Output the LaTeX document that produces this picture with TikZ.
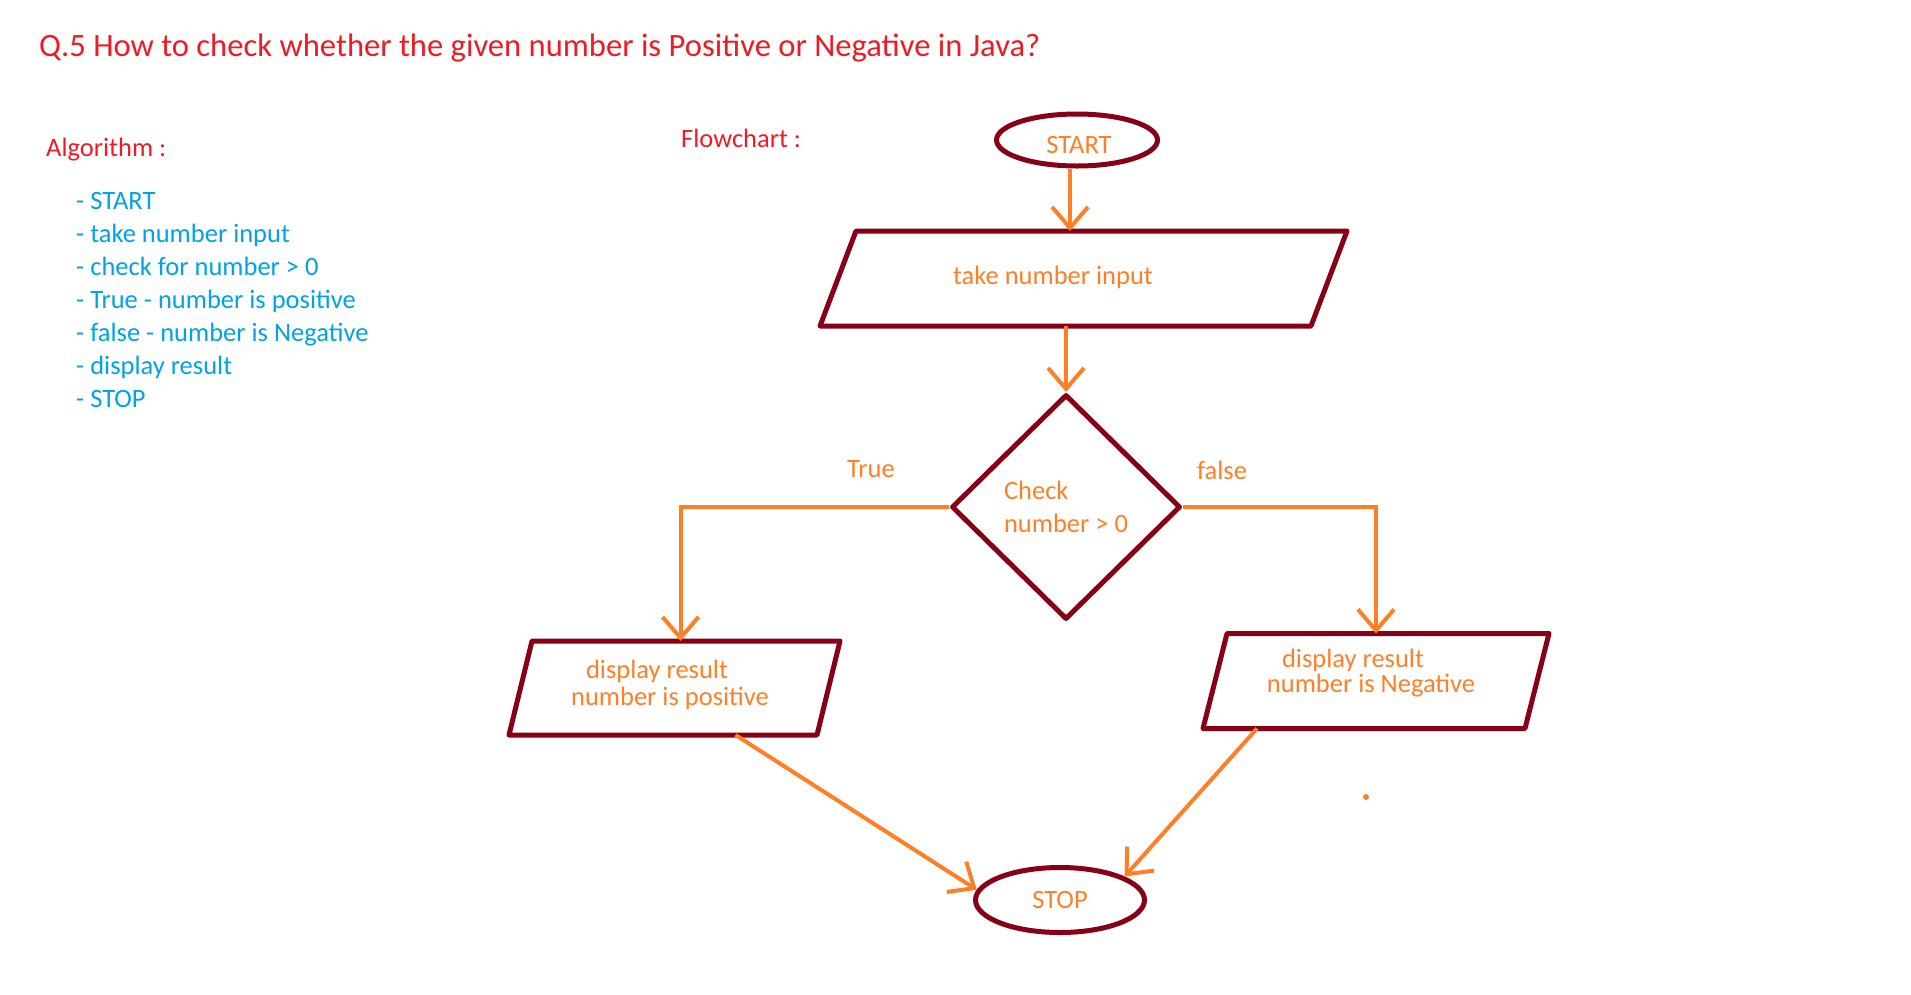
\documentclass[tikz,border=0pt]{standalone}
\usepackage{fontspec}
\setmainfont{Carlito}
\usetikzlibrary{shapes.geometric,arrows.meta}
\definecolor{dred}{RGB}{136,0,21}
\definecolor{porange}{RGB}{255,127,39}
\definecolor{pred}{RGB}{237,28,36}
\definecolor{pblue}{RGB}{0,162,232}
\newcommand{\skewbox}[2]{% node name, horizontal offset
  \draw[outl] ([xshift=#2]#1.north west) -- (#1.north east)
    -- ([xshift=-#2]#1.south east) -- (#1.south west) -- cycle;}
\begin{document}
\begin{tikzpicture}[x=1pt,y=-1pt,
  txt/.style={font=\fontsize{26.5}{33}\selectfont, inner sep=0pt},
  algline/.style={txt, text=pblue, anchor=base west},
  head/.style={txt, text=pred, anchor=base west},
  outl/.style={draw=dred, line width=5pt, line join=round},
  term/.style={outl, ellipse, txt, text=porange},
  iobox/.style={rectangle, inner sep=0pt, outer sep=0pt},
  lbl/.style={txt, text=porange},
  arr/.style={draw=porange, line width=4pt, -{Straight Barb[length=21pt,width=36pt]}},
]
\useasboundingbox (0,0) rectangle (1911,994);

% title and headings
\node[head, font=\fontsize{32.6}{38}\selectfont] (title) at (39,56)
  {Q.5 How to check whether the given number is Positive or Negative in Java?};
\node[head] (algo) at (46,156) {Algorithm :};
\foreach \t [count=\i] in {START, take number input, check for number > 0,
  True - number is positive, false - number is Negative, display result, STOP}
  \node[algline] (a\i) at (76,176+33*\i) {- \t};
\node[head] (fc) at (681,147) {Flowchart :};

% flowchart shapes
\node[term, minimum width=161pt, minimum height=52pt] (start) at (1077,140) {};
\node[lbl] (startT) at (1079,145) {START};
\node[iobox, minimum width=527pt, minimum height=95pt] (inp) at (1083.5,278.5) {};
\skewbox{inp}{36pt}
\node[lbl] (inpT) at (1053,277.5) {take number input};
\node[outl, diamond, inner sep=0pt, minimum width=229pt, minimum height=225pt,
      lbl, align=left, font=\fontsize{26.5}{33}\selectfont] (dia) at (1066,507) {Check\\number > 0};
\node[iobox, minimum width=331pt, minimum height=94pt] (pos) at (674.5,688) {};
\skewbox{pos}{23pt}
\node[lbl, align=center, font=\fontsize{26.5}{27}\selectfont] (posT) at (670,684.5)
  {display result\hspace*{26pt}\\number is positive};
\node[iobox, minimum width=346pt, minimum height=95pt] (neg) at (1376,681) {};
\skewbox{neg}{24pt}
\node[lbl, align=center, font=\fontsize{26.5}{25}\selectfont] (negT) at (1371,673.5)
  {display result\hspace*{36pt}\\number is Negative};
\node[term, minimum width=169pt, minimum height=65pt] (stop) at (1060,900) {STOP};

% labels
\node[lbl] (tl) at (871,469) {True};
\node[lbl] (fl) at (1222,470) {false};

% connectors
\draw[arr] ([xshift=-7pt]start.south) -- ([xshift=-7pt]start.south |- inp.north);
\draw[arr] (dia.north |- inp.south) -- (dia.north);
\draw[arr] (dia.west) -| ([xshift=6pt]pos.north);
\draw[arr] (dia.east) -| (neg.north);
\draw[arr] ([xshift=61pt]pos.south) -- (stop.173);
\draw[arr] ([xshift=-119pt]neg.south) -- (stop.20);

% stray dot
\fill[porange] (1366,797) circle (3pt);
\end{tikzpicture}
\end{document}
